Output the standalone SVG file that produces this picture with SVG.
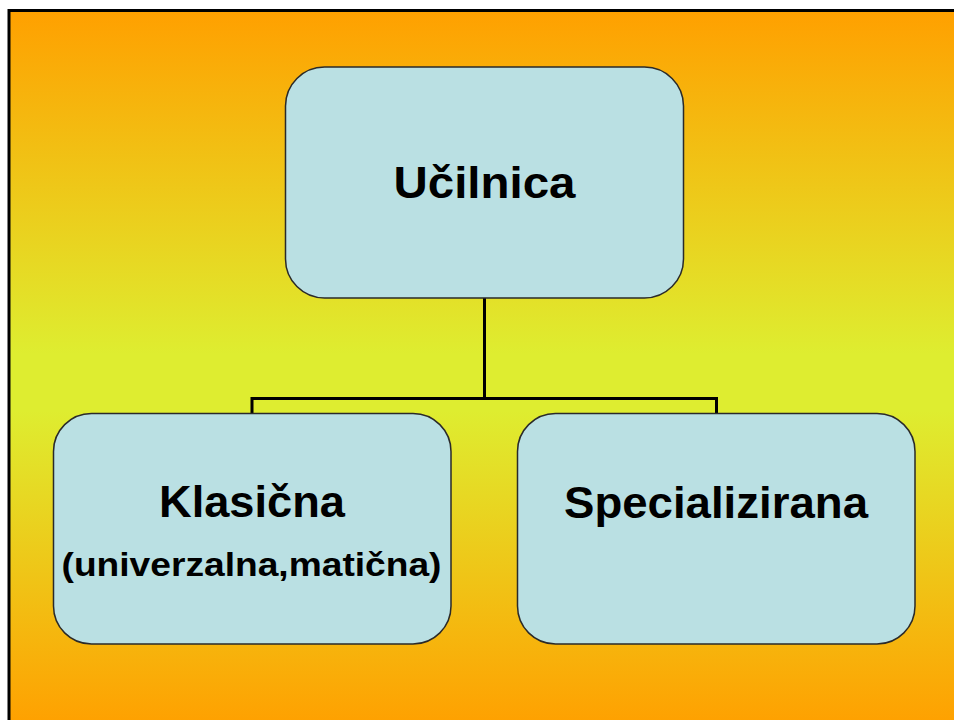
<svg xmlns="http://www.w3.org/2000/svg" width="954" height="720" viewBox="0 0 954 720">
  <defs>
    <linearGradient id="bg" x1="0" y1="0" x2="0" y2="1">
      <stop offset="0" stop-color="#FFA000"/>
      <stop offset="0.48" stop-color="#DEED30"/>
      <stop offset="0.56" stop-color="#DEED30"/>
      <stop offset="1" stop-color="#FFA000"/>
    </linearGradient>
    <style>
      .node rect { fill: #BAE0E3; stroke: #2a2a2a; stroke-width: 1.5; }
      .node text { font-family: "Liberation Sans", Arial, sans-serif; font-weight: bold; fill: #000; text-anchor: middle; }
      .big { font-size: 45px; }
      .small { font-size: 34px; }
      .conn { fill: none; stroke: #000; stroke-width: 3; }
    </style>
  </defs>
  <rect x="0" y="0" width="954" height="720" fill="#FFFFFF"/>
  <rect x="9" y="10.5" width="950" height="715" fill="url(#bg)"/>
  <path d="M9 725 V10.5 H960" fill="none" stroke="#000" stroke-width="3"/>
  <g id="connectors">
    <path class="conn" d="M484.5 298 V398.5 M252 413 V398.5 H716.5 V413"/>
  </g>
  <g id="node-ucilnica" class="node">
    <rect x="285.5" y="67" width="398" height="231" rx="39" ry="39"/>
    <text class="big" x="484.5" y="198" textLength="182" lengthAdjust="spacingAndGlyphs">Učilnica</text>
  </g>
  <g id="node-klasicna" class="node">
    <rect x="53.5" y="413.5" width="397.5" height="230.5" rx="38" ry="38"/>
    <text class="big" x="252" y="517" textLength="186" lengthAdjust="spacingAndGlyphs">Klasična</text>
    <text class="small" x="251.5" y="576" textLength="380" lengthAdjust="spacingAndGlyphs">(univerzalna,matična)</text>
  </g>
  <g id="node-specializirana" class="node">
    <rect x="517.5" y="413.5" width="397.5" height="230.5" rx="38" ry="38"/>
    <text class="big" x="716" y="518" textLength="304" lengthAdjust="spacingAndGlyphs">Specializirana</text>
  </g>
</svg>
